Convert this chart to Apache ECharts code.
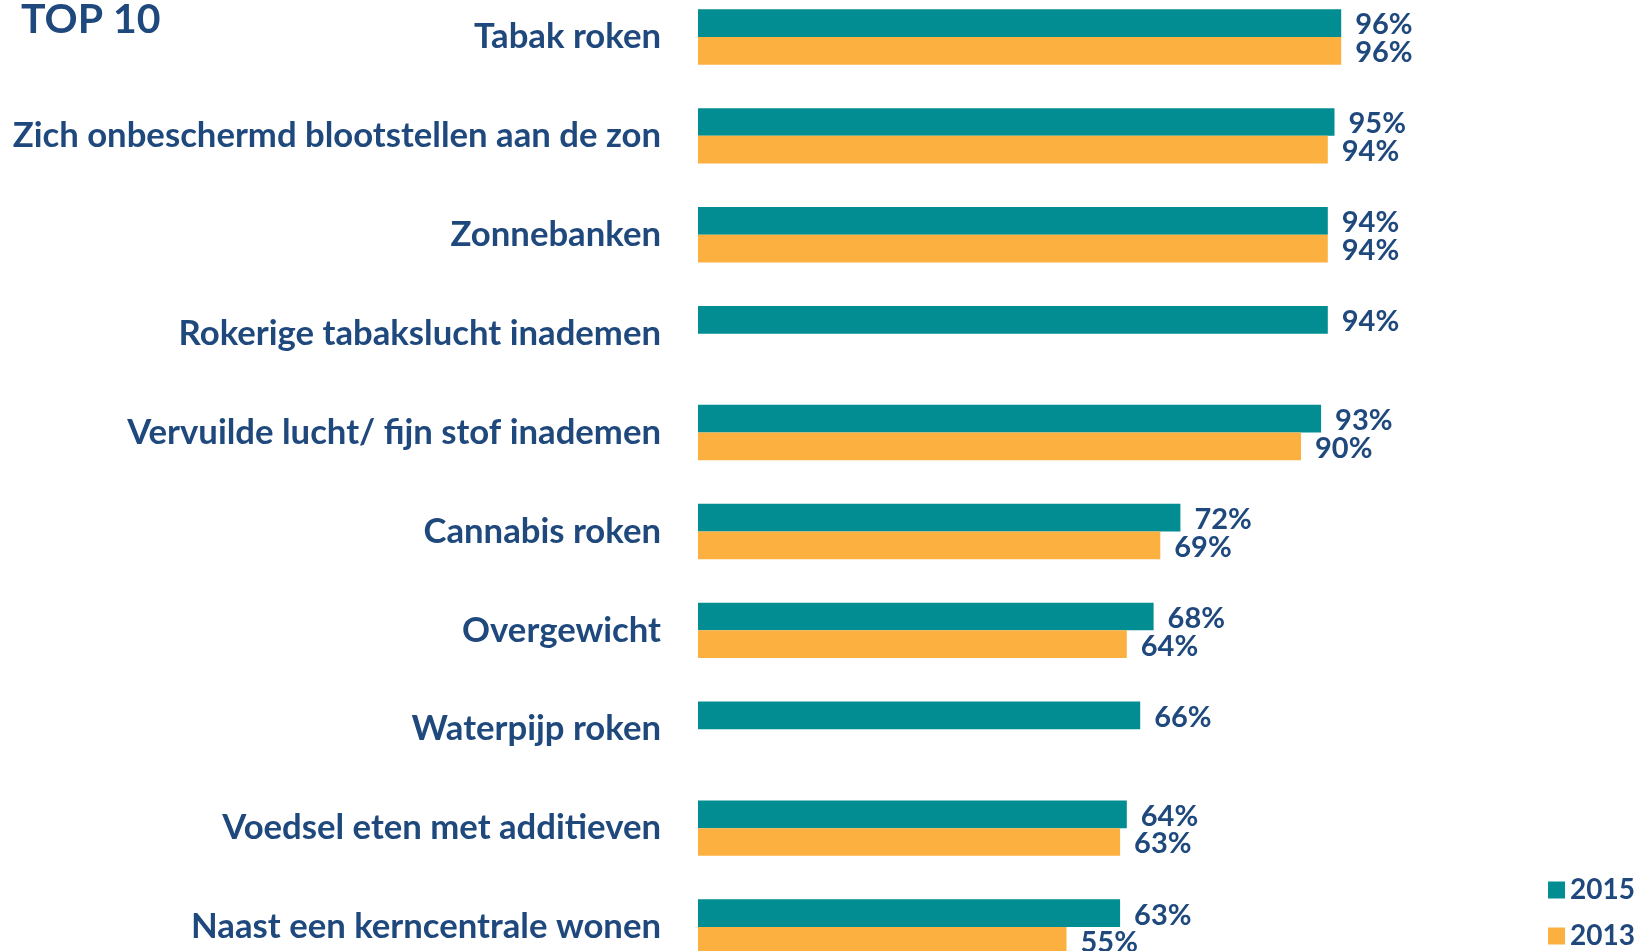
<!DOCTYPE html>
<html>
<head>
<meta charset="utf-8">
<script src="https://cdn.jsdelivr.net/npm/echarts@6/dist/echarts.min.js"></script>
<style>
  html, body { margin: 0; padding: 0; background: #fff; }
  #main { width: 1637px; height: 951px; }
</style>
</head>
<body>
<div id="main"></div>
<script>
// categories, top to bottom
const categories = [
  'Tabak roken',
  'Zich onbeschermd blootstellen aan de zon',
  'Zonnebanken',
  'Rokerige tabakslucht inademen',
  'Vervuilde lucht/ fijn stof inademen',
  'Cannabis roken',
  'Overgewicht',
  'Waterpijp roken',
  'Voedsel eten met additieven',
  'Naast een kerncentrale wonen'
]
const values2015 = [96, 95, 94, 94, 93, 72, 68, 66, 64, 63]
const values2013 = [96, 94, 94, null, 90, 69, 64, null, 63, 55]

const textColor = '#1f497d'
const font = 'Lato'

const myChart = echarts.init(document.getElementById('main'))
myChart.setOption({
  animation: false,
  color: ['#018d91', '#fbb040'],
  title: {
    text: 'TOP 10',
    left: 16,
    top: -6,
    textStyle: { color: textColor, fontFamily: font, fontWeight: 'bold', fontSize: 41 }
  },
  legend: {
    data: ['2015', '2013'],
    orient: 'vertical',
    right: 2,
    top: 876,
    padding: 0,
    icon: 'rect',
    itemWidth: 17,
    itemHeight: 17,
    itemGap: 18,
    textStyle: { color: textColor, fontFamily: font, fontWeight: 'bold', fontSize: 28 }
  },
  grid: {
    left: 698,
    top: -12.5,
    width: 670,
    height: 989,
    outerBoundsMode: 'none'
  },
  xAxis: {
    type: 'value',
    min: 0,
    max: 100,
    show: false
  },
  yAxis: {
    type: 'category',
    inverse: true,
    data: categories,
    axisLine: { show: false },
    axisTick: { show: false },
    axisLabel: {
      margin: 37,
      color: textColor,
      fontFamily: font,
      fontWeight: 'bold',
      fontSize: 34.7
    }
  },
  series: [
    {
      name: '2015',
      type: 'bar',
      barWidth: 27.7,
      barGap: '0%',
      data: values2015,
      label: {
        show: true,
        position: 'right',
        distance: 14,
        offset: [0, 2],
        formatter: '{c}%',
        color: textColor,
        fontFamily: font,
        fontWeight: 'bold',
        fontSize: 29
      }
    },
    {
      name: '2013',
      type: 'bar',
      barWidth: 27.7,
      data: values2013,
      label: {
        show: true,
        position: 'right',
        distance: 14,
        offset: [0, 2],
        formatter: '{c}%',
        color: textColor,
        fontFamily: font,
        fontWeight: 'bold',
        fontSize: 29
      }
    }
  ]
})
</script>
</body>
</html>
